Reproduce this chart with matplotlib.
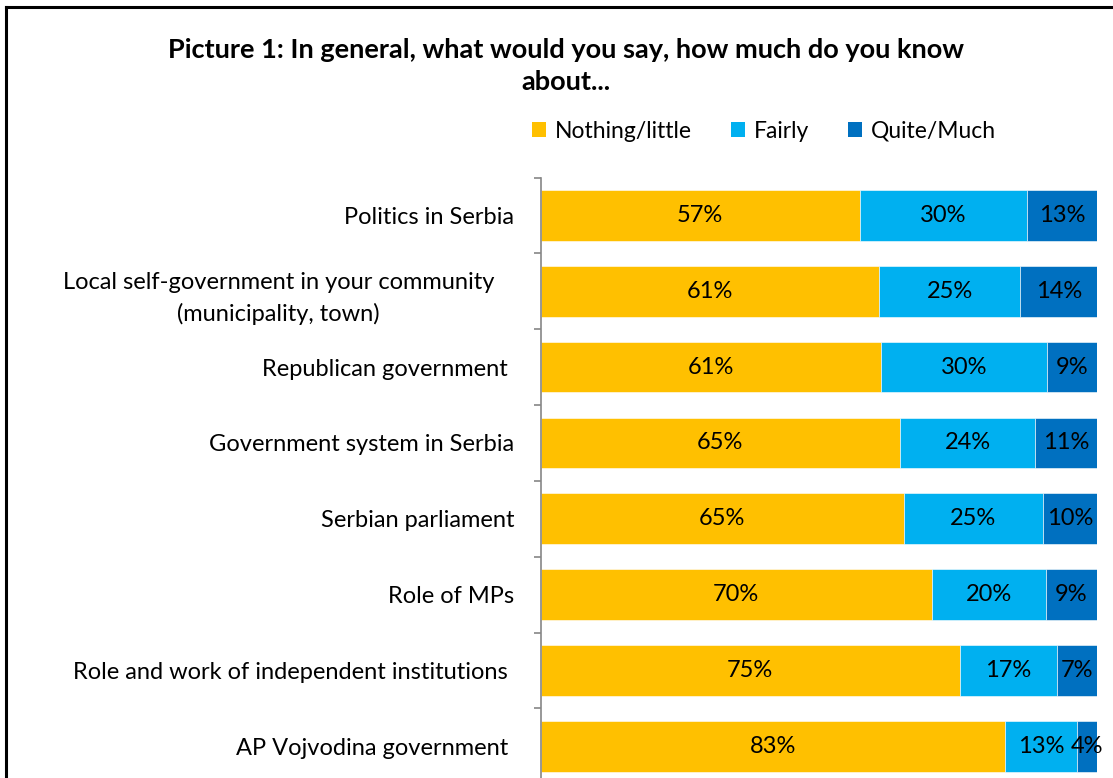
import matplotlib
matplotlib.use("Agg")
import matplotlib.pyplot as plt
import matplotlib.transforms as mtransforms
import numpy as np
from matplotlib.lines import Line2D
from matplotlib.patches import Patch

categories = [
    "Politics in Serbia",
    "Local self-government in your community\n(municipality, town)",
    "Republican government ",
    "Government system in Serbia",
    "Serbian parliament",
    "Role of MPs",
    "Role and work of independent institutions ",
    "AP Vojvodina government ",
]
series_names = ["Nothing/little", "Fairly", "Quite/Much"]
nothing_little = [57.4, 60.8, 61.2, 64.6, 65.2, 70.3, 75.3, 83.4]
fairly = [30.0, 25.4, 29.8, 24.2, 25.0, 20.4, 17.4, 12.9]
quite_much = [12.6, 13.8, 9.0, 11.2, 9.8, 9.3, 7.3, 3.7]
colors = ["#FFC000", "#00B0F0", "#0070C0"]

FONT = "Lato"
plt.rcParams["font.family"] = [FONT, "DejaVu Sans"]
FS = 17

W, H = 1113, 778
fig = plt.figure(figsize=(W / 100, H / 100), dpi=100)

ax_left, ax_right = 540.5, 1097.3
ax_top, ax_bot = 177.5, 784.2
ax = fig.add_axes([ax_left / W, 1 - ax_bot / H, (ax_right - ax_left) / W, (ax_bot - ax_top) / H])

y = np.arange(len(categories))
series = [nothing_little, fairly, quite_much]
left = np.zeros(len(categories))
bar_h = 0.668
for vals, col, name in zip(series, colors, series_names):
    vals = np.array(vals)
    ax.barh(y, vals, left=left, height=bar_h, color=col, label=name, edgecolor="white", linewidth=0.4)
    for yi, l, v in zip(y, left, vals):
        ax.text(l + v / 2, yi, f"{v:.0f}%", ha="center", va="center", fontsize=FS, color="black")
    left = left + vals

ax.set_xlim(0, 100)
ax.set_ylim(len(categories) - 0.5, -0.5)
ax.set_yticks(y)
ax.set_yticklabels(categories, fontsize=FS, linespacing=1.55)
ax.set_yticks(np.arange(-0.5, len(categories), 1), minor=True)
ax.tick_params(axis="y", which="major", length=0, pad=19)
ax.tick_params(axis="y", which="minor", length=5, width=1.2, color="#868686")
ax.tick_params(axis="x", bottom=False, labelbottom=False)
for s in ["top", "right", "bottom"]:
    ax.spines[s].set_visible(False)
ax.spines["left"].set_color("#868686")
ax.spines["left"].set_linewidth(1.2)

lbl = ax.get_yticklabels()[1]
lbl.set_multialignment("center")
lbl.set_transform(lbl.get_transform() + mtransforms.ScaledTranslation(-20 / 100, 0, fig.dpi_scale_trans))

fig.text(566 / W, 1 - 66 / H,
         "Picture 1: In general, what would you say, how much do you know\nabout...",
         ha="center", va="center", fontsize=19.5, fontweight="bold", linespacing=1.4)

handles = [Patch(facecolor=c, edgecolor="none") for c in colors]
fig.legend(handles, series_names, loc="center", bbox_to_anchor=(764 / W, 1 - 131 / H),
           ncol=3, frameon=False, fontsize=16.5, handlelength=0.6, handleheight=0.6,
           handletextpad=0.4, columnspacing=1.7)

fig.add_artist(Line2D([6 / W, 1.0], [1 - 7 / H, 1 - 7 / H], color="black", lw=2.2, transform=fig.transFigure))
fig.add_artist(Line2D([6 / W, 6 / W], [1 - 7 / H, 0], color="black", lw=2.2, transform=fig.transFigure))

fig.savefig("out.png", dpi=100)
